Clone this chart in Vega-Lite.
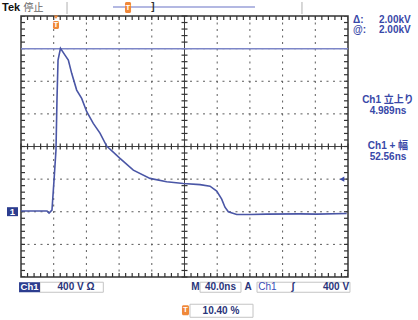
{
  "$schema": "https://vega.github.io/schema/vega-lite/v6.json",
  "autosize": {"type": "none"},
  "width": 327,
  "height": 261,
  "padding": {"left": 21, "top": 16, "right": 70, "bottom": 43},
  "background": "white",
  "config": {
    "view": {"stroke": "#333333", "strokeWidth": 1.5},
    "font": "Liberation Sans, Noto Sans CJK JP"
  },
  "datasets": {
    "trace": [
      {"t": 0, "v": 10}, {"t": 31.8, "v": 10}, {"t": 34.3, "v": -17}, {"t": 37.9, "v": 20},
      {"t": 40.4, "v": 388}, {"t": 42.8, "v": 756}, {"t": 44.0, "v": 1369}, {"t": 45.3, "v": 1860},
      {"t": 48.3, "v": 2004}, {"t": 53.8, "v": 1921}, {"t": 57.9, "v": 1860}, {"t": 62.0, "v": 1697},
      {"t": 68.1, "v": 1492}, {"t": 74.2, "v": 1390}, {"t": 80.4, "v": 1226}, {"t": 88.4, "v": 1083},
      {"t": 96.6, "v": 964}, {"t": 104.8, "v": 805}, {"t": 121.1, "v": 654}, {"t": 137.4, "v": 510},
      {"t": 157.8, "v": 409}, {"t": 178.2, "v": 367}, {"t": 198.6, "v": 347}, {"t": 219.0, "v": 333},
      {"t": 231.2, "v": 314}, {"t": 239.4, "v": 253}, {"t": 245.5, "v": 155}, {"t": 249.5, "v": 56},
      {"t": 253.6, "v": -1}, {"t": 263.9, "v": -33}, {"t": 280.1, "v": -33}, {"t": 300.5, "v": -29},
      {"t": 341.3, "v": -26}, {"t": 361.7, "v": -29}, {"t": 398.4, "v": -21}
    ],
    "gridX": [{"t": 40}, {"t": 80}, {"t": 120}, {"t": 160}, {"t": 240}, {"t": 280}, {"t": 320}, {"t": 360}],
    "gridY": [{"v": -400}, {"v": 0}, {"v": 400}, {"v": 1200}, {"v": 1600}, {"v": 2000}],
    "minorX": [
      {"t": 0}, {"t": 8}, {"t": 16}, {"t": 24}, {"t": 32}, {"t": 40}, {"t": 48}, {"t": 56}, {"t": 64}, {"t": 72},
      {"t": 80}, {"t": 88}, {"t": 96}, {"t": 104}, {"t": 112}, {"t": 120}, {"t": 128}, {"t": 136}, {"t": 144}, {"t": 152},
      {"t": 160}, {"t": 168}, {"t": 176}, {"t": 184}, {"t": 192}, {"t": 200}, {"t": 208}, {"t": 216}, {"t": 224}, {"t": 232},
      {"t": 240}, {"t": 248}, {"t": 256}, {"t": 264}, {"t": 272}, {"t": 280}, {"t": 288}, {"t": 296}, {"t": 304}, {"t": 312},
      {"t": 320}, {"t": 328}, {"t": 336}, {"t": 344}, {"t": 352}, {"t": 360}, {"t": 368}, {"t": 376}, {"t": 384}, {"t": 392},
      {"t": 400}
    ],
    "minorY": [
      {"v": -800}, {"v": -720}, {"v": -640}, {"v": -560}, {"v": -480}, {"v": -400}, {"v": -320}, {"v": -240}, {"v": -160}, {"v": -80},
      {"v": 0}, {"v": 80}, {"v": 160}, {"v": 240}, {"v": 320}, {"v": 400}, {"v": 480}, {"v": 560}, {"v": 640}, {"v": 720},
      {"v": 800}, {"v": 880}, {"v": 960}, {"v": 1040}, {"v": 1120}, {"v": 1200}, {"v": 1280}, {"v": 1360}, {"v": 1440}, {"v": 1520},
      {"v": 1600}, {"v": 1680}, {"v": 1760}, {"v": 1840}, {"v": 1920}, {"v": 2000}, {"v": 2080}, {"v": 2160}, {"v": 2240}, {"v": 2320},
      {"v": 2400}
    ],
    "hcenter": [{"v": 800}],
    "vcenter": [{"t": 200}],
    "cursor": [{"v": 2000}],
    "readoutLeft": [
      {"t": 406.1, "v": 2351, "label": "Δ:"},
      {"t": 406.1, "v": 2228, "label": "@:"},
      {"t": 437.9, "v": 2351, "label": "2.00kV"},
      {"t": 437.9, "v": 2228, "label": "2.00kV"}
    ],
    "readoutCenter": [
      {"t": 448.9, "v": 1369, "label": "Ch1 立上り"},
      {"t": 448.9, "v": 1234, "label": "4.989ns"},
      {"t": 448.9, "v": 805, "label": "Ch1 + 幅"},
      {"t": 448.9, "v": 670, "label": "52.56ns"}
    ],
    "tek": [{"t": -23.2, "v": 2498, "label": "Tek"}],
    "stop": [{"t": 3.2, "v": 2498, "label": "停止"}],
    "footer": [
      {"t": 67.3, "v": -925, "label": "400 V Ω"},
      {"t": 213.4, "v": -925, "label": "M"},
      {"t": 244.0, "v": -925, "label": "40.0ns"},
      {"t": 277.7, "v": -925, "label": "A"},
      {"t": 332.7, "v": -925, "label": "ʃ"},
      {"t": 385.3, "v": -925, "label": "400 V"},
      {"t": 244.6, "v": -1213, "label": "10.40 %"}
    ],
    "trigSrc": [{"t": 301.5, "v": -925, "label": "Ch1"}],
    "outlineBoxes": [
      {"t1": 23.2, "t2": 100.7, "v1": -864, "v2": -987},
      {"t1": 219.0, "t2": 269.1, "v1": -864, "v2": -987},
      {"t1": 288.7, "t2": 402.4, "v1": -864, "v2": -987},
      {"t1": 206.7, "t2": 283.8, "v1": -1134, "v2": -1294}
    ],
    "blueBoxes": [
      {"t1": -2.4, "t2": 23.2, "v1": -864, "v2": -987},
      {"t1": -17.1, "t2": -3.7, "v1": 56, "v2": -54}
    ],
    "whiteText": [
      {"t": 10.4, "v": -925, "label": "Ch1"},
      {"t": -10.4, "v": 0, "label": "1"}
    ],
    "orangeBoxes": [
      {"t1": 196.9, "t2": 205.5, "v1": -1146, "v2": -1269},
      {"t1": 127.2, "t2": 134.6, "v1": 2572, "v2": 2437},
      {"t1": 39.1, "t2": 46.5, "v1": 2339, "v2": 2240}
    ],
    "orangeText": [
      {"t": 201.2, "v": -1207, "label": "T"},
      {"t": 130.9, "v": 2504, "label": "T"},
      {"t": 42.8, "v": 2290, "label": "T"}
    ],
    "topBar": [{"t1": 112.5, "t2": 286.2, "v": 2510}],
    "bracket": [{"t": 161.5, "v": 2510, "label": "]"}],
    "separators": [
      {"t": 56.3, "v1": 2572, "v2": 2424},
      {"t": 343.7, "v1": 2572, "v2": 2424}
    ],
    "trigLevel": [{"t": 392.6, "v": 400}],
    "trigPos": [{"t": 42.8, "v": 2385}]
  },
  "layer": [
    {
      "data": {"name": "gridX"},
      "mark": {"type": "rule", "color": "#5c5c5c", "strokeWidth": 1, "strokeDash": [2, 4.5]},
      "encoding": {
        "x": {"field": "t", "type": "quantitative", "scale": {"domain": [0, 400], "nice": false, "zero": false}, "axis": null}
      }
    },
    {
      "data": {"name": "gridY"},
      "mark": {"type": "rule", "color": "#5c5c5c", "strokeWidth": 1, "strokeDash": [2, 4.5]},
      "encoding": {
        "y": {"field": "v", "type": "quantitative", "scale": {"domain": [-800, 2400], "nice": false, "zero": false}, "axis": null}
      }
    },
    {
      "data": {"name": "hcenter"},
      "mark": {"type": "rule", "color": "#444444", "strokeWidth": 1},
      "encoding": {
        "y": {"field": "v", "type": "quantitative", "scale": {"domain": [-800, 2400], "nice": false, "zero": false}, "axis": null}
      }
    },
    {
      "data": {"name": "vcenter"},
      "mark": {"type": "rule", "color": "#444444", "strokeWidth": 1},
      "encoding": {
        "x": {"field": "t", "type": "quantitative", "scale": {"domain": [0, 400], "nice": false, "zero": false}, "axis": null}
      }
    },
    {
      "data": {"name": "minorX"},
      "mark": {"type": "tick", "orient": "vertical", "color": "#333333", "size": 6, "thickness": 1.2, "opacity": 1},
      "encoding": {
        "x": {"field": "t", "type": "quantitative", "scale": {"domain": [0, 400], "nice": false, "zero": false}, "axis": null},
        "y": {"datum": 800, "type": "quantitative", "scale": {"domain": [-800, 2400], "nice": false, "zero": false}, "axis": null}
      }
    },
    {
      "data": {"name": "minorX"},
      "mark": {"type": "tick", "orient": "vertical", "color": "#333333", "size": 8, "thickness": 1.2, "opacity": 1, "clip": true},
      "encoding": {
        "x": {"field": "t", "type": "quantitative", "scale": {"domain": [0, 400], "nice": false, "zero": false}, "axis": null},
        "y": {"datum": -800, "type": "quantitative", "scale": {"domain": [-800, 2400], "nice": false, "zero": false}, "axis": null}
      }
    },
    {
      "data": {"name": "minorX"},
      "mark": {"type": "tick", "orient": "vertical", "color": "#333333", "size": 8, "thickness": 1.2, "opacity": 1, "clip": true},
      "encoding": {
        "x": {"field": "t", "type": "quantitative", "scale": {"domain": [0, 400], "nice": false, "zero": false}, "axis": null},
        "y": {"datum": 2400, "type": "quantitative", "scale": {"domain": [-800, 2400], "nice": false, "zero": false}, "axis": null}
      }
    },
    {
      "data": {"name": "minorY"},
      "mark": {"type": "tick", "orient": "horizontal", "color": "#333333", "size": 6, "thickness": 1.2, "opacity": 1},
      "encoding": {
        "y": {"field": "v", "type": "quantitative", "scale": {"domain": [-800, 2400], "nice": false, "zero": false}, "axis": null},
        "x": {"datum": 200, "type": "quantitative", "scale": {"domain": [0, 400], "nice": false, "zero": false}, "axis": null}
      }
    },
    {
      "data": {"name": "minorY"},
      "mark": {"type": "tick", "orient": "horizontal", "color": "#333333", "size": 8, "thickness": 1.2, "opacity": 1, "clip": true},
      "encoding": {
        "y": {"field": "v", "type": "quantitative", "scale": {"domain": [-800, 2400], "nice": false, "zero": false}, "axis": null},
        "x": {"datum": 0, "type": "quantitative", "scale": {"domain": [0, 400], "nice": false, "zero": false}, "axis": null}
      }
    },
    {
      "data": {"name": "minorY"},
      "mark": {"type": "tick", "orient": "horizontal", "color": "#333333", "size": 8, "thickness": 1.2, "opacity": 1, "clip": true},
      "encoding": {
        "y": {"field": "v", "type": "quantitative", "scale": {"domain": [-800, 2400], "nice": false, "zero": false}, "axis": null},
        "x": {"datum": 400, "type": "quantitative", "scale": {"domain": [0, 400], "nice": false, "zero": false}, "axis": null}
      }
    },
    {
      "data": {"name": "cursor"},
      "mark": {"type": "rule", "color": "#7d86c8", "strokeWidth": 1.5},
      "encoding": {
        "y": {"field": "v", "type": "quantitative", "scale": {"domain": [-800, 2400], "nice": false, "zero": false}, "axis": null}
      }
    },
    {
      "data": {"name": "trace"},
      "mark": {"type": "line", "color": "#4a56a6", "strokeWidth": 1.6, "clip": false},
      "encoding": {
        "x": {"field": "t", "type": "quantitative", "scale": {"domain": [0, 400], "nice": false, "zero": false}, "axis": null},
        "y": {"field": "v", "type": "quantitative", "scale": {"domain": [-800, 2400], "nice": false, "zero": false}, "axis": null}
      }
    },
    {
      "data": {"name": "readoutLeft"},
      "mark": {"type": "text", "align": "left", "baseline": "middle", "fontSize": 10, "fontWeight": "bold", "color": "#3848a8"},
      "encoding": {
        "x": {"field": "t", "type": "quantitative", "scale": {"domain": [0, 400], "nice": false, "zero": false}, "axis": null},
        "y": {"field": "v", "type": "quantitative", "scale": {"domain": [-800, 2400], "nice": false, "zero": false}, "axis": null},
        "text": {"field": "label"}
      }
    },
    {
      "data": {"name": "readoutCenter"},
      "mark": {"type": "text", "align": "center", "baseline": "middle", "fontSize": 10, "fontWeight": "bold", "color": "#3848a8"},
      "encoding": {
        "x": {"field": "t", "type": "quantitative", "scale": {"domain": [0, 400], "nice": false, "zero": false}, "axis": null},
        "y": {"field": "v", "type": "quantitative", "scale": {"domain": [-800, 2400], "nice": false, "zero": false}, "axis": null},
        "text": {"field": "label"}
      }
    },
    {
      "data": {"name": "topBar"},
      "mark": {"type": "rule", "color": "#9aa0d8", "strokeWidth": 1.5},
      "encoding": {
        "x": {"field": "t1", "type": "quantitative", "scale": {"domain": [0, 400], "nice": false, "zero": false}, "axis": null},
        "x2": {"field": "t2"},
        "y": {"field": "v", "type": "quantitative", "scale": {"domain": [-800, 2400], "nice": false, "zero": false}, "axis": null}
      }
    },
    {
      "data": {"name": "separators"},
      "mark": {"type": "rule", "color": "#b0b0b0", "strokeWidth": 1},
      "encoding": {
        "x": {"field": "t", "type": "quantitative", "scale": {"domain": [0, 400], "nice": false, "zero": false}, "axis": null},
        "y": {"field": "v1", "type": "quantitative", "scale": {"domain": [-800, 2400], "nice": false, "zero": false}, "axis": null},
        "y2": {"field": "v2"}
      }
    },
    {
      "data": {"name": "outlineBoxes"},
      "mark": {"type": "rect", "fill": "white", "stroke": "#c4c4c4", "strokeWidth": 1},
      "encoding": {
        "x": {"field": "t1", "type": "quantitative", "scale": {"domain": [0, 400], "nice": false, "zero": false}, "axis": null},
        "x2": {"field": "t2"},
        "y": {"field": "v1", "type": "quantitative", "scale": {"domain": [-800, 2400], "nice": false, "zero": false}, "axis": null},
        "y2": {"field": "v2"}
      }
    },
    {
      "data": {"name": "blueBoxes"},
      "mark": {"type": "rect", "fill": "#2c3d8f"},
      "encoding": {
        "x": {"field": "t1", "type": "quantitative", "scale": {"domain": [0, 400], "nice": false, "zero": false}, "axis": null},
        "x2": {"field": "t2"},
        "y": {"field": "v1", "type": "quantitative", "scale": {"domain": [-800, 2400], "nice": false, "zero": false}, "axis": null},
        "y2": {"field": "v2"}
      }
    },
    {
      "data": {"name": "orangeBoxes"},
      "mark": {"type": "rect", "fill": "#f0883a", "cornerRadius": 1.5},
      "encoding": {
        "x": {"field": "t1", "type": "quantitative", "scale": {"domain": [0, 400], "nice": false, "zero": false}, "axis": null},
        "x2": {"field": "t2"},
        "y": {"field": "v1", "type": "quantitative", "scale": {"domain": [-800, 2400], "nice": false, "zero": false}, "axis": null},
        "y2": {"field": "v2"}
      }
    },
    {
      "data": {"name": "orangeText"},
      "mark": {"type": "text", "align": "center", "baseline": "middle", "fontSize": 8, "fontWeight": "bold", "color": "white"},
      "encoding": {
        "x": {"field": "t", "type": "quantitative", "scale": {"domain": [0, 400], "nice": false, "zero": false}, "axis": null},
        "y": {"field": "v", "type": "quantitative", "scale": {"domain": [-800, 2400], "nice": false, "zero": false}, "axis": null},
        "text": {"field": "label"}
      }
    },
    {
      "data": {"name": "whiteText"},
      "mark": {"type": "text", "align": "center", "baseline": "middle", "fontSize": 9.5, "fontWeight": "bold", "color": "white"},
      "encoding": {
        "x": {"field": "t", "type": "quantitative", "scale": {"domain": [0, 400], "nice": false, "zero": false}, "axis": null},
        "y": {"field": "v", "type": "quantitative", "scale": {"domain": [-800, 2400], "nice": false, "zero": false}, "axis": null},
        "text": {"field": "label"}
      }
    },
    {
      "data": {"name": "footer"},
      "mark": {"type": "text", "align": "center", "baseline": "middle", "fontSize": 10, "fontWeight": "bold", "color": "#2a357a"},
      "encoding": {
        "x": {"field": "t", "type": "quantitative", "scale": {"domain": [0, 400], "nice": false, "zero": false}, "axis": null},
        "y": {"field": "v", "type": "quantitative", "scale": {"domain": [-800, 2400], "nice": false, "zero": false}, "axis": null},
        "text": {"field": "label"}
      }
    },
    {
      "data": {"name": "trigSrc"},
      "mark": {"type": "text", "align": "center", "baseline": "middle", "fontSize": 10, "color": "#3a4fb8"},
      "encoding": {
        "x": {"field": "t", "type": "quantitative", "scale": {"domain": [0, 400], "nice": false, "zero": false}, "axis": null},
        "y": {"field": "v", "type": "quantitative", "scale": {"domain": [-800, 2400], "nice": false, "zero": false}, "axis": null},
        "text": {"field": "label"}
      }
    },
    {
      "data": {"name": "tek"},
      "mark": {"type": "text", "align": "left", "baseline": "middle", "fontSize": 11, "fontWeight": "bold", "color": "#111111"},
      "encoding": {
        "x": {"field": "t", "type": "quantitative", "scale": {"domain": [0, 400], "nice": false, "zero": false}, "axis": null},
        "y": {"field": "v", "type": "quantitative", "scale": {"domain": [-800, 2400], "nice": false, "zero": false}, "axis": null},
        "text": {"field": "label"}
      }
    },
    {
      "data": {"name": "stop"},
      "mark": {"type": "text", "align": "left", "baseline": "middle", "fontSize": 10, "color": "#666666"},
      "encoding": {
        "x": {"field": "t", "type": "quantitative", "scale": {"domain": [0, 400], "nice": false, "zero": false}, "axis": null},
        "y": {"field": "v", "type": "quantitative", "scale": {"domain": [-800, 2400], "nice": false, "zero": false}, "axis": null},
        "text": {"field": "label"}
      }
    },
    {
      "data": {"name": "bracket"},
      "mark": {"type": "text", "align": "center", "baseline": "middle", "fontSize": 10, "fontWeight": "bold", "color": "#333333"},
      "encoding": {
        "x": {"field": "t", "type": "quantitative", "scale": {"domain": [0, 400], "nice": false, "zero": false}, "axis": null},
        "y": {"field": "v", "type": "quantitative", "scale": {"domain": [-800, 2400], "nice": false, "zero": false}, "axis": null},
        "text": {"field": "label"}
      }
    },
    {
      "data": {"name": "trigLevel"},
      "mark": {"type": "point", "shape": "triangle-left", "filled": true, "color": "#3848a8", "size": 30, "opacity": 1},
      "encoding": {
        "x": {"field": "t", "type": "quantitative", "scale": {"domain": [0, 400], "nice": false, "zero": false}, "axis": null},
        "y": {"field": "v", "type": "quantitative", "scale": {"domain": [-800, 2400], "nice": false, "zero": false}, "axis": null}
      }
    },
    {
      "data": {"name": "trigPos"},
      "mark": {"type": "point", "shape": "triangle-down", "filled": true, "color": "#f0883a", "size": 18, "opacity": 1},
      "encoding": {
        "x": {"field": "t", "type": "quantitative", "scale": {"domain": [0, 400], "nice": false, "zero": false}, "axis": null},
        "y": {"field": "v", "type": "quantitative", "scale": {"domain": [-800, 2400], "nice": false, "zero": false}, "axis": null}
      }
    }
  ]
}
